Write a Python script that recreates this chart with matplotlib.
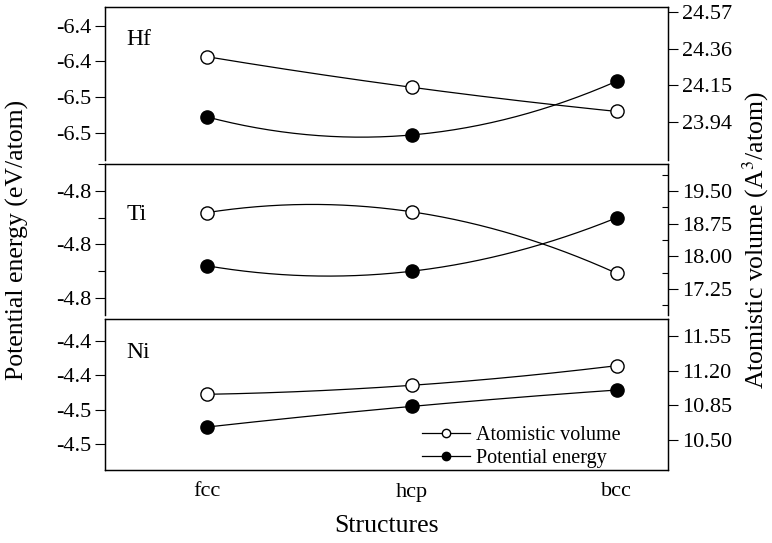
import numpy as np
import matplotlib
matplotlib.use("Agg")
import matplotlib.pyplot as plt
from matplotlib.ticker import FixedLocator, FormatStrFormatter
from matplotlib.lines import Line2D

plt.rcParams['font.family'] = ['Liberation Serif', 'DejaVu Serif']
plt.rcParams['mathtext.fontset'] = 'stix'
plt.rcParams['font.size'] = 16

structures = ['fcc', 'hcp', 'bcc']

hf_energy = [-6.471, -6.481, -6.451]
hf_volume = [24.314, 24.139, 24.001]
ti_energy = [-4.788, -4.790, -4.770]
ti_volume = [19.004, 19.02, 17.61]
ni_energy = [-4.470, -4.458, -4.4485]
ni_volume = [10.961, 11.052, 11.25]

hf_left_ticks = [-6.42, -6.44, -6.46, -6.48]
hf_right_ticks = [24.57, 24.36, 24.15, 23.94]
ti_left_ticks = [-4.76, -4.78, -4.80]
ti_left_minor = [-4.75, -4.77, -4.79]
ti_right_ticks = [19.50, 18.75, 18.00, 17.25]
ti_right_minor = [19.875, 19.125, 18.375, 17.625, 16.875]
ni_left_ticks = [-4.42, -4.44, -4.46, -4.48]
ni_right_ticks = [11.55, 11.20, 10.85, 10.50]

W, H = 772, 543
fig = plt.figure(figsize=(W / 100, H / 100), dpi=100)

def box(top, bottom, left=105, right=668):
    return [left / W, 1 - bottom / H, (right - left) / W, (bottom - top) / H]

x = np.arange(len(structures))
xs = np.linspace(0, 2, 200)

def curve(ax, vals, face):
    c = np.polyfit(x, vals, 2)
    ax.plot(xs, np.polyval(c, xs), color='black', lw=0.9, zorder=2)
    ax.plot(x, vals, 'o', ms=9.5, mfc=face, mec='black', mew=1.0, zorder=3,
            clip_on=False)

panels = [
    ('Hf', box(7, 160), hf_energy, hf_volume, (-6.495, -6.4096), (23.723, 24.599),
     hf_left_ticks, None, hf_right_ticks, None, 0.75),
    ('Ti', box(164, 315), ti_energy, ti_volume, (-4.8064, -4.7499), (16.656, 20.117),
     ti_left_ticks, ti_left_minor, ti_right_ticks, ti_right_minor, 0.63),
    ('Ni', box(319, 470), ni_energy, ni_volume, (-4.495, -4.4072), (10.197, 11.721),
     ni_left_ticks, None, ni_right_ticks, None, 0.74),
]

axes = []
for i, (name, pos, en, vol, ylim_l, ylim_r, lt, lm, rt, rm, ny) in enumerate(panels):
    ax = fig.add_axes(pos)
    ax2 = ax.twinx()
    ax.set_xlim(-0.5, 2.25)
    ax.set_ylim(*ylim_l)
    ax2.set_ylim(*ylim_r)
    curve(ax, en, 'black')
    curve(ax2, vol, 'white')
    ax.yaxis.set_major_locator(FixedLocator(lt))
    ax.yaxis.set_major_formatter(FormatStrFormatter('%.1f'))
    ax2.yaxis.set_major_locator(FixedLocator(rt))
    ax2.yaxis.set_major_formatter(FormatStrFormatter('%.2f'))
    if lm:
        ax.yaxis.set_minor_locator(FixedLocator(lm))
        ax.tick_params(axis='y', which='minor', direction='out', length=5, width=0.8)
    if rm:
        ax2.yaxis.set_minor_locator(FixedLocator(rm))
        ax2.tick_params(axis='y', which='minor', direction='in', length=4, width=0.8)
    ax.tick_params(axis='y', which='major', direction='out', length=7, width=0.8,
                   labelsize=16, pad=3)
    ax2.tick_params(axis='y', which='major', direction='out', length=7, width=0.8,
                    labelsize=16, pad=3)
    ax.set_xticks(x)
    ax.tick_params(axis='x', length=0, labelsize=16, pad=9)
    if i < 2:
        ax.set_xticklabels([])
        for a in (ax, ax2):
            a.spines['bottom'].set_visible(False)
    else:
        ax.set_xticklabels(structures)
    for a in (ax, ax2):
        for s in a.spines.values():
            s.set_linewidth(0.9)
    ax.text(0.038, ny, name, transform=ax.transAxes, fontsize=17)
    axes.append((ax, ax2))

ni_ax = axes[2][0]
handles = [
    Line2D([], [], color='black', lw=0.9, marker='o', ms=6, mfc='white', mec='black'),
    Line2D([], [], color='black', lw=0.9, marker='o', ms=6, mfc='black', mec='black'),
]
ni_ax.legend(handles, ['Atomistic volume', 'Potential energy'], loc='lower left',
             bbox_to_anchor=(0.53, -0.11), frameon=False, fontsize=14.5,
             handlelength=2.4, handletextpad=0.3, labelspacing=0.2)

ni_ax.set_xlabel('Structures', fontsize=18.5, labelpad=10)
fig.text(17 / W, 1 - 240 / H, 'Potential energy (eV/atom)', rotation=90,
         va='center', ha='center', fontsize=18.5)
fig.text(756 / W, 1 - 240 / H, 'Atomistic volume (A$^3$/atom)', rotation=90,
         va='center', ha='center', fontsize=18.5)

fig.savefig('out.png', dpi=100)
